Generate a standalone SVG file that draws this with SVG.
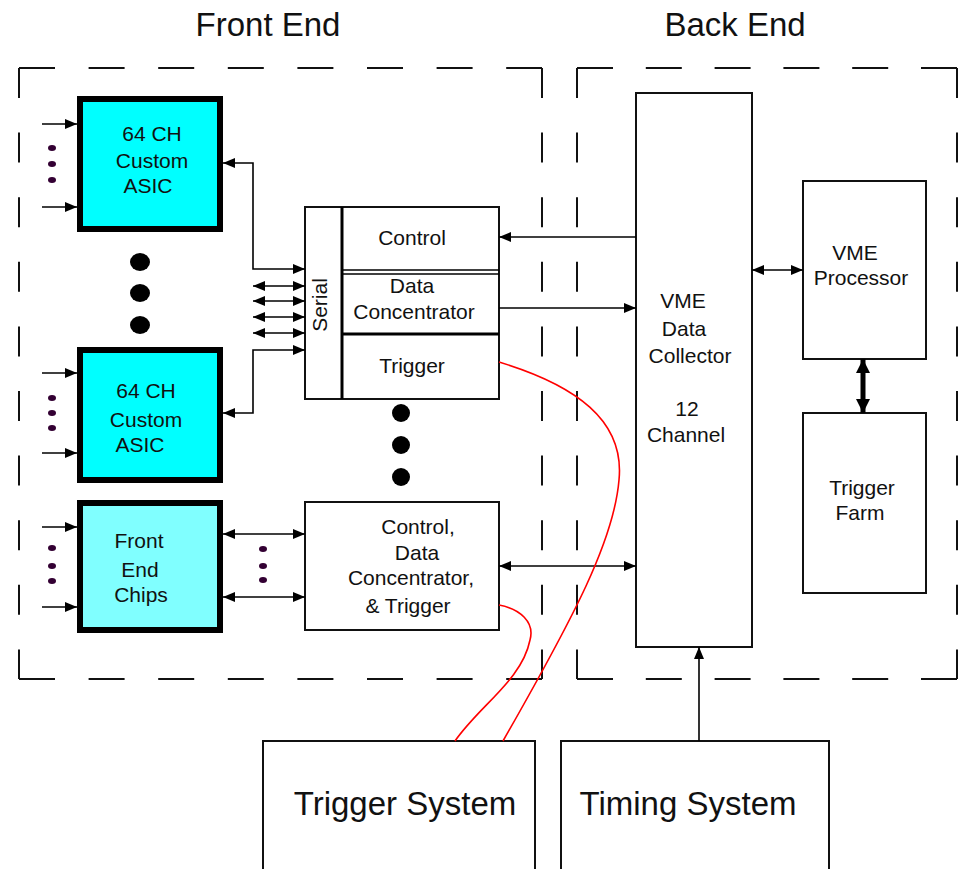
<svg xmlns="http://www.w3.org/2000/svg" width="959" height="869" viewBox="0 0 959 869">
<style>
text{font-family:"Liberation Sans",Arial,sans-serif;fill:#111;text-anchor:middle}
.t{font-size:21px}
.h{font-size:33px}
.box{fill:#fff;stroke:#111;stroke-width:2}
.asic{fill:#00ffff;stroke:#000;stroke-width:6}
.fec{fill:#80ffff;stroke:#000;stroke-width:6}
.dash{fill:none;stroke:#111;stroke-width:2}
.ln{fill:none;stroke:#000;stroke-width:1.6}
.red{fill:none;stroke:#ff0000;stroke-width:1.6}
.sd{fill:#330033}
.bd{fill:#000}
</style>
<defs>
<marker id="ah" viewBox="0 0 12 10" refX="12" refY="5" markerWidth="12" markerHeight="10" markerUnits="userSpaceOnUse" orient="auto-start-reverse"><path d="M0,0 L12,5 L0,10 z" fill="#000"/></marker>
<marker id="ahb" viewBox="0 0 14 14" refX="14" refY="7" markerWidth="14" markerHeight="14" markerUnits="userSpaceOnUse" orient="auto-start-reverse"><path d="M0,0 L14,7 L0,14 z" fill="#000"/></marker>
</defs>
<rect width="959" height="869" fill="#fff"/>

<g id="frontend-region">
<text class="h" x="268" y="36">Front End</text>
<path class="dash" d="M19,68 H542" stroke-dasharray="36 33.6"/>
<path class="dash" d="M19,679 H542" stroke-dasharray="36 33.6"/>
<path class="dash" d="M19,68 V679" stroke-dasharray="30 34.6"/>
<path class="dash" d="M542,68 V679" stroke-dasharray="30 34.6"/>
</g>
<g id="backend-region">
<text class="h" x="735" y="36">Back End</text>
<path class="dash" d="M577,68 H957" stroke-dasharray="36 32.8"/>
<path class="dash" d="M577,679 H957" stroke-dasharray="36 32.8"/>
<path class="dash" d="M577,68 V679" stroke-dasharray="30 34.6"/>
<path class="dash" d="M957,68 V679" stroke-dasharray="30 34.6"/>
</g>

<g id="asic1">
<rect class="asic" x="80" y="99" width="140" height="130"/>
<text class="t" x="152" y="141">64 CH</text>
<text class="t" x="152" y="168">Custom</text>
<text class="t" x="148" y="193">ASIC</text>
<ellipse class="sd" cx="52" cy="148" rx="4" ry="3"/>
<ellipse class="sd" cx="52" cy="164" rx="4" ry="3"/>
<ellipse class="sd" cx="52" cy="180" rx="4" ry="3"/>
</g>
<g id="asic-dots">
<ellipse class="bd" cx="140" cy="262" rx="10" ry="9"/>
<ellipse class="bd" cx="140" cy="293" rx="10" ry="9"/>
<ellipse class="bd" cx="140" cy="325" rx="10" ry="9"/>
</g>
<g id="asic2">
<rect class="asic" x="80" y="350" width="140" height="130"/>
<text class="t" x="146" y="398">64 CH</text>
<text class="t" x="146" y="427">Custom</text>
<text class="t" x="140" y="452">ASIC</text>
<ellipse class="sd" cx="52" cy="398" rx="4" ry="3"/>
<ellipse class="sd" cx="52" cy="413" rx="4" ry="3"/>
<ellipse class="sd" cx="52" cy="428" rx="4" ry="3"/>
</g>
<g id="fechips">
<rect class="fec" x="80" y="503" width="140" height="127"/>
<text class="t" x="139" y="548">Front</text>
<text class="t" x="140" y="577">End</text>
<text class="t" x="141" y="602">Chips</text>
<ellipse class="sd" cx="52" cy="548" rx="4" ry="3"/>
<ellipse class="sd" cx="52" cy="566" rx="4" ry="3"/>
<ellipse class="sd" cx="52" cy="581" rx="4" ry="3"/>
<ellipse class="sd" cx="263" cy="549" rx="4" ry="3"/>
<ellipse class="sd" cx="263" cy="566" rx="4" ry="3"/>
<ellipse class="sd" cx="263" cy="580" rx="4" ry="3"/>
</g>

<g id="serial-concentrator">
<rect class="box" x="305" y="207" width="194" height="192"/>
<line x1="342" y1="207" x2="342" y2="399" stroke="#000" stroke-width="3"/>
<line x1="342" y1="270" x2="499" y2="270" stroke="#000" stroke-width="1.6"/>
<line x1="342" y1="274" x2="499" y2="274" stroke="#000" stroke-width="1.6"/>
<line x1="342" y1="334" x2="499" y2="334" stroke="#000" stroke-width="3"/>
<text class="t" transform="translate(327,305) rotate(-90)" x="0" y="0">Serial</text>
<text class="t" x="412" y="245">Control</text>
<text class="t" x="412" y="293">Data</text>
<text class="t" x="414" y="319">Concentrator</text>
<text class="t" x="412" y="373">Trigger</text>
</g>
<g id="conc-dots">
<ellipse class="bd" cx="401" cy="413" rx="9" ry="9"/>
<ellipse class="bd" cx="401" cy="445" rx="9" ry="9"/>
<ellipse class="bd" cx="401" cy="477" rx="9" ry="9"/>
</g>
<g id="combined">
<rect class="box" x="305" y="502" width="194" height="128"/>
<text class="t" x="418" y="534">Control,</text>
<text class="t" x="417" y="560">Data</text>
<text class="t" x="411" y="585">Concentrator,</text>
<text class="t" x="408" y="613">&amp; Trigger</text>
</g>

<g id="vme-collector">
<rect class="box" x="636" y="93" width="116" height="554"/>
<text class="t" x="683" y="308">VME</text>
<text class="t" x="684" y="336">Data</text>
<text class="t" x="690" y="363">Collector</text>
<text class="t" x="687" y="416">12</text>
<text class="t" x="686" y="442">Channel</text>
</g>
<g id="vme-processor">
<rect class="box" x="803" y="181" width="123" height="178"/>
<text class="t" x="855" y="260">VME</text>
<text class="t" x="861" y="285">Processor</text>
</g>
<g id="trigger-farm">
<rect class="box" x="803" y="413" width="123" height="180"/>
<text class="t" x="862" y="495">Trigger</text>
<text class="t" x="860" y="520">Farm</text>
</g>
<g id="trigger-system">
<rect class="box" x="263" y="741" width="272" height="140"/>
<text class="h" x="405" y="815">Trigger System</text>
</g>
<g id="timing-system">
<rect class="box" x="561" y="741" width="268" height="140"/>
<text class="h" x="688" y="815">Timing System</text>
</g>

<g id="connectors">
<line class="ln" x1="42" y1="124" x2="77" y2="124" marker-end="url(#ah)"/>
<line class="ln" x1="42" y1="207" x2="77" y2="207" marker-end="url(#ah)"/>
<line class="ln" x1="42" y1="373" x2="77" y2="373" marker-end="url(#ah)"/>
<line class="ln" x1="42" y1="453" x2="77" y2="453" marker-end="url(#ah)"/>
<line class="ln" x1="42" y1="527" x2="77" y2="527" marker-end="url(#ah)"/>
<line class="ln" x1="42" y1="607" x2="77" y2="607" marker-end="url(#ah)"/>
<path class="ln" d="M223,163 H253 V269 H305" marker-start="url(#ah)" marker-end="url(#ah)"/>
<line class="ln" x1="253" y1="286" x2="305" y2="286" marker-start="url(#ah)" marker-end="url(#ah)"/>
<line class="ln" x1="253" y1="301" x2="305" y2="301" marker-start="url(#ah)" marker-end="url(#ah)"/>
<line class="ln" x1="253" y1="317" x2="305" y2="317" marker-start="url(#ah)" marker-end="url(#ah)"/>
<line class="ln" x1="253" y1="333" x2="305" y2="333" marker-start="url(#ah)" marker-end="url(#ah)"/>
<path class="ln" d="M305,350 H253 V413 H223" marker-start="url(#ah)" marker-end="url(#ah)"/>
<line class="ln" x1="223" y1="534" x2="305" y2="534" marker-start="url(#ah)" marker-end="url(#ah)"/>
<line class="ln" x1="223" y1="597" x2="305" y2="597" marker-start="url(#ah)" marker-end="url(#ah)"/>
<line class="ln" x1="636" y1="237" x2="499" y2="237" marker-end="url(#ah)"/>
<line class="ln" x1="499" y1="308" x2="636" y2="308" marker-end="url(#ah)"/>
<line class="ln" x1="499" y1="566" x2="636" y2="566" marker-start="url(#ah)" marker-end="url(#ah)"/>
<line class="ln" x1="752" y1="270" x2="803" y2="270" marker-start="url(#ah)" marker-end="url(#ah)"/>
<line x1="863" y1="359" x2="863" y2="413" stroke="#000" stroke-width="5" marker-start="url(#ahb)" marker-end="url(#ahb)"/>
<line class="ln" x1="699" y1="741" x2="699" y2="647" marker-end="url(#ah)"/>
<path class="red" d="M499,362 C575,385 625,420 619,480 C614,540 575,615 503,741"/>
<path class="red" d="M499,605 C520,609 535,622 530,640 C522,680 480,705 455,741"/>
</g>
</svg>
